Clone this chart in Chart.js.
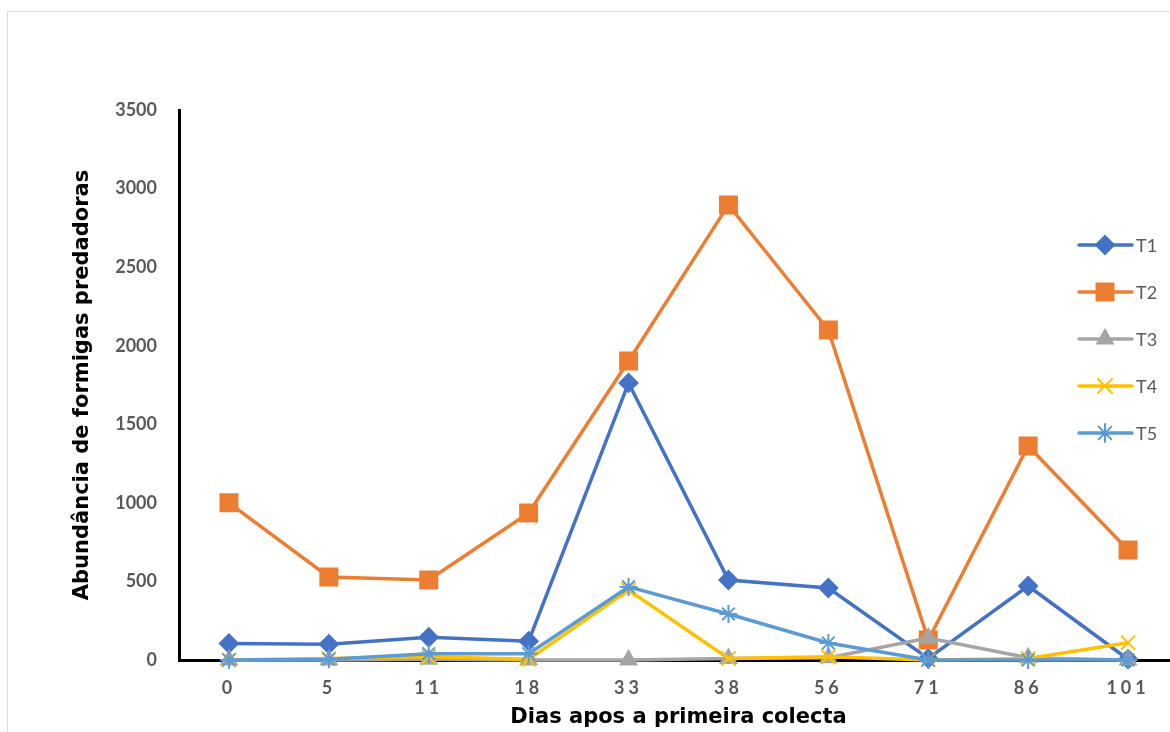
<!DOCTYPE html>
<html lang="pt">
<head>
  <meta charset="UTF-8">
  <title>Abundância de formigas predadoras</title>
  <script src="https://cdn.jsdelivr.net/npm/chart.js"></script>
  <style>
    html, body { margin: 0; padding: 0; background: #fff; overflow: hidden; }
    #wrap { position: relative; width: 1192px; height: 732px; }
  </style>
</head>
<body>
  <div id="wrap">
    <canvas id="antChart" width="1192" height="732"></canvas>
  </div>

  <script>
    // Dias apos a primeira colecta
    const dias = ['0', '5', '11', '18', '33', '38', '56', '71', '86', '101'];

    // Abundância por tratamento
    const t1 = [105, 100, 145, 120, 1763, 509, 458, 10, 471, 5];
    const t2 = [1000, 528, 509, 936, 1903, 2896, 2100, 127, 1362, 700];
    const t3 = [0, 0, 5, 0, 0, 10, 15, 140, 15, 0];
    const t4 = [0, 10, 20, 5, 445, 10, 20, 0, 10, 110];
    const t5 = [0, 5, 40, 40, 465, 293, 108, 0, 0, 0];

    const yTicks = [0, 500, 1000, 1500, 2000, 2500, 3000, 3500];

    const tickColor = '#595959';
    const fontFamily = 'Lato, "Open Sans", sans-serif';
    const titleFamily = '"DejaVu Sans", sans-serif';

    function serie(label, data, color, pointStyle, radius, order) {
      return {
        label: label,
        data: data,
        borderColor: color,
        backgroundColor: color,
        pointBackgroundColor: color,
        pointBorderColor: color,
        pointStyle: pointStyle,
        pointRadius: radius,
        pointHoverRadius: radius,
        pointBorderWidth: 2,
        borderWidth: 3.5,
        tension: 0,
        fill: false,
        clip: false,
        order: order
      };
    }

    // chart border (light grey frame like the spreadsheet chart)
    const frame = {
      id: 'frame',
      beforeDraw(chart) {
        const c = chart.ctx;
        c.save();
        c.strokeStyle = '#d9d9d9';
        c.lineWidth = 1;
        c.strokeRect(7.5, 11.5, 1300, 900);
        c.restore();
      }
    };

    // legend drawn inside the plot area, on the right
    const legendaDentro = {
      id: 'legendaDentro',
      afterDatasetsDraw(chart) {
        const c = chart.ctx;
        const ys = [245, 292, 339, 386, 433];
        c.save();
        chart.data.datasets.forEach((ds, i) => {
          const y = ys[i];
          c.strokeStyle = ds.borderColor;
          c.fillStyle = ds.borderColor;
          c.lineWidth = 3.5;
          c.lineCap = 'round';
          c.beginPath();
          c.moveTo(1079, y);
          c.lineTo(1132, y);
          c.stroke();
          c.lineWidth = 2;
          Chart.helpers.drawPoint(c, {
            pointStyle: ds.pointStyle,
            radius: ds.pointRadius,
            rotation: 0,
            borderWidth: 2
          }, 1105, y);
          c.fillStyle = tickColor;
          c.font = '18px ' + fontFamily;
          c.textBaseline = 'middle';
          c.textAlign = 'left';
          c.fillText(ds.label, 1136, y + 1);
        });
        c.restore();
      }
    };

    // spaced-out x tick labels, like the original
    function spacedLabels(scale) {
      if (scale._spaced) return;
      const orig = scale.drawLabels.bind(scale);
      scale.drawLabels = function (area) {
        const c = this.ctx;
        const prev = c.letterSpacing;
        c.letterSpacing = '4px';
        orig(area);
        c.letterSpacing = prev || '0px';
      };
      scale._spaced = true;
    }

    const ctx = document.getElementById('antChart').getContext('2d');
    new Chart(ctx, {
      type: 'line',
      data: {
        labels: dias,
        datasets: [
          serie('T1', t1, '#4472C4', 'rectRot', 9, 4),
          serie('T2', t2, '#ED7D31', 'rect', 12, 3),
          serie('T3', t3, '#A5A5A5', 'triangle', 9, 2),
          serie('T4', t4, '#FFC000', 'crossRot', 10, 1),
          serie('T5', t5, '#5B9BD5', 'star', 9, 0)
        ]
      },
      options: {
        responsive: false,
        animation: false,
        events: [],
        layout: { padding: { left: 0, top: 110, right: 2, bottom: 0 } },
        plugins: {
          legend: { display: false },
          tooltip: { enabled: false }
        },
        scales: {
          x: {
            offset: true,
            grid: { display: false, drawTicks: false },
            border: { display: true, color: '#000', width: 3 },
            ticks: {
              color: tickColor,
              font: { family: fontFamily, size: 18, weight: 'bold' },
              padding: 17,
              maxRotation: 0
            },
            title: {
              display: true,
              text: 'Dias apos a primeira colecta',
              color: '#000',
              font: { family: titleFamily, size: 21, weight: 'bold' },
              padding: { top: 0, bottom: 2 }
            },
            afterFit(scale) { scale.height = 72; },
            afterUpdate: spacedLabels
          },
          y: {
            min: 0,
            max: 3500,
            afterBuildTicks(scale) { scale.ticks = yTicks.map(v => ({ value: v })); },
            grid: { display: false, drawTicks: false },
            border: { display: true, color: '#000', width: 3 },
            ticks: {
              color: tickColor,
              font: { family: fontFamily, size: 18, weight: 'bold' },
              padding: 22,
              callback: v => String(v)
            },
            title: {
              display: true,
              text: 'Abundância de formigas predadoras',
              color: '#000',
              font: { family: titleFamily, size: 21, weight: 'bold' },
              padding: { top: 70, bottom: 0 }
            },
            afterFit(scale) { scale.width = 179; }
          }
        }
      },
      plugins: [frame, legendaDentro]
    });
  </script>
</body>
</html>
